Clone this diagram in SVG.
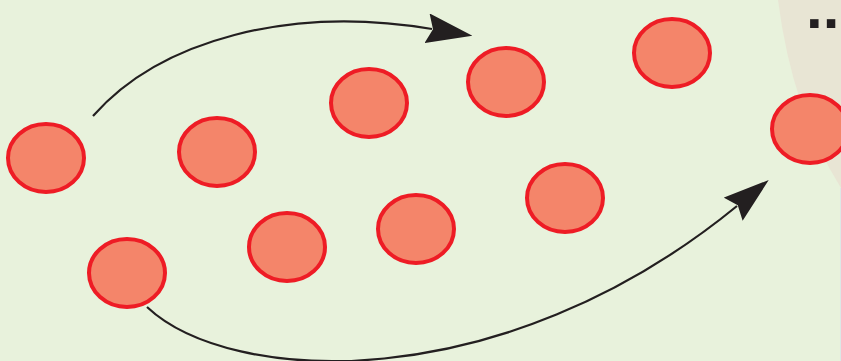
<svg xmlns="http://www.w3.org/2000/svg" width="841" height="361" viewBox="0 0 841 361">
  <style>
    .dot { fill: #f4856a; stroke: #ee1c25; stroke-width: 4; }
    .conn { fill: none; stroke: #231f20; stroke-width: 2.2; }
    .label { font-family: "Liberation Sans", Arial, sans-serif; font-weight: bold; fill: #231f20; }
  </style>
  <defs>
    <marker id="head" markerUnits="userSpaceOnUse" viewBox="0 0 46 30" markerWidth="46" markerHeight="30" refX="5" refY="15" orient="auto">
      <path d="M0,0 L46,15 L0,30 L6,15 Z" fill="#231f20"/>
    </marker>
  </defs>
  <rect x="0" y="0" width="841" height="361" fill="#e8f2dc"/>
  <path d="M778,0 Q792,110 841,188 L841,0 Z" fill="#e8e5d4"/>
  <rect x="840" y="188" width="1" height="173" fill="#dde8e6"/>

  <g id="nodes">
    <g id="n1"><ellipse class="dot" cx="46" cy="158" rx="38" ry="34"/></g>
    <g id="n2"><ellipse class="dot" cx="217" cy="152" rx="38" ry="34"/></g>
    <g id="n3"><ellipse class="dot" cx="369" cy="103" rx="38" ry="34"/></g>
    <g id="n4"><ellipse class="dot" cx="506" cy="82" rx="38" ry="34"/></g>
    <g id="n5"><ellipse class="dot" cx="672" cy="53" rx="38" ry="34"/></g>
    <g id="n6"><ellipse class="dot" cx="810" cy="129" rx="38" ry="34"/></g>
    <g id="n7"><ellipse class="dot" cx="127" cy="273" rx="38" ry="34"/></g>
    <g id="n8"><ellipse class="dot" cx="287" cy="247" rx="38" ry="34"/></g>
    <g id="n9"><ellipse class="dot" cx="416" cy="229" rx="38" ry="34"/></g>
    <g id="n10"><ellipse class="dot" cx="565" cy="198" rx="38" ry="34"/></g>
  </g>

  <g id="connectors">
    <path class="conn" d="M93,116 C160,40 290,5 432,29" marker-end="url(#head)"/>
    <path class="conn" d="M147,307 C230,385 500,400 737,206" marker-end="url(#head)"/>
  </g>

  <g id="ellipsis">
    <text class="label" x="806" y="28" font-size="60">...</text>
  </g>
</svg>
